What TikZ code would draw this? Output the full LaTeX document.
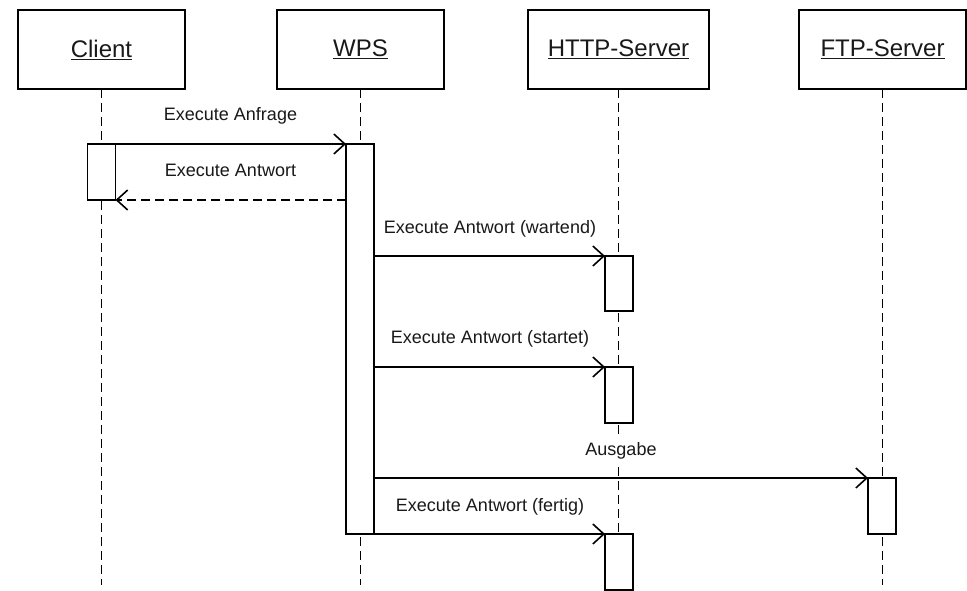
\documentclass[tikz,border=0pt]{standalone}
\usepackage{fontspec}
\setmainfont{Liberation Sans}
\usetikzlibrary{arrows.meta}
\begin{document}
\begin{tikzpicture}[x=1pt,y=-1pt,
  objbox/.style={draw,line width=1.7pt,minimum width=167pt,minimum height=79pt,inner sep=0pt,outer sep=0pt,font=\fontsize{24}{28}\selectfont,text=black!90},
  actbox/.style={draw,fill=white,line width=1.6pt,minimum width=28pt,inner sep=0pt,outer sep=0pt},
  lifeline/.style={line width=1.5pt,dash pattern=on 9pt off 5pt},
  msg/.style={line width=1.6pt,-{Straight Barb[length=11pt,width=20pt,line width=1.6pt]}},
  reply/.style={msg,dash pattern=on 9pt off 5pt},
  lbl/.style={font=\fontsize{18}{22}\selectfont,inner sep=3pt,fill=white,anchor=base,text=black!90}
]
\useasboundingbox (0,0) rectangle (967,591);
\coordinate (bottom) at (0,585);

% object boxes
\node[objbox] (client) at (101.5,49.5) {\underline{Client}};
\node[objbox] (wps) at (360.5,49.5) {\underline{WPS}};
\node[objbox,minimum width=181pt] (http) at (618.5,49.5) {\underline{HTTP-Server}};
\node[objbox] (ftp) at (882.5,49.5) {\underline{FTP-Server}};

% lifelines
\draw[lifeline] (client.south) -- (client.south |- bottom);
\draw[lifeline] (wps.south) -- (wps.south |- bottom);
\draw[lifeline] (http.south) -- (http.south |- bottom);
\draw[lifeline] (ftp.south) -- (ftp.south |- bottom);

% activations
\node[actbox,minimum height=56pt] (ca) at (101.5,172) {};
\node[actbox,minimum height=390pt] (wa) at (360,339) {};
\node[actbox,minimum height=55pt] (h1) at (619,283.5) {};
\node[actbox,minimum height=56pt] (h2) at (619,395) {};
\node[actbox,minimum height=56pt] (h3) at (619,562) {};
\node[actbox,minimum height=56pt] (fa) at (882,506) {};

% messages
\draw[msg] (ca.north east) -- (wa.north west);
\draw[reply] (wa.west |- ca.south) -- (ca.south east);
\draw[msg] (wa.east |- h1.north) -- (h1.north west);
\draw[msg] (wa.east |- h2.north) -- (h2.north west);
\draw[msg] (wa.east |- fa.north) -- (fa.north west);
\draw[msg] (wa.south east) -- (h3.north west);

% labels
\node[lbl] (t1) at (230.5,120.5) {Execute Anfrage};
\node[lbl] (t2) at (230.5,176.5) {Execute Antwort};
\node[lbl] (t3) at (490,233.5) {Execute Antwort (wartend)};
\node[lbl] (t4) at (490,343.5) {Execute Antwort (startet)};
\node[lbl] (t5) at (621,455) {Ausgabe};
\node[lbl] (t6) at (490,511.5) {Execute Antwort (fertig)};
\end{tikzpicture}
\end{document}
